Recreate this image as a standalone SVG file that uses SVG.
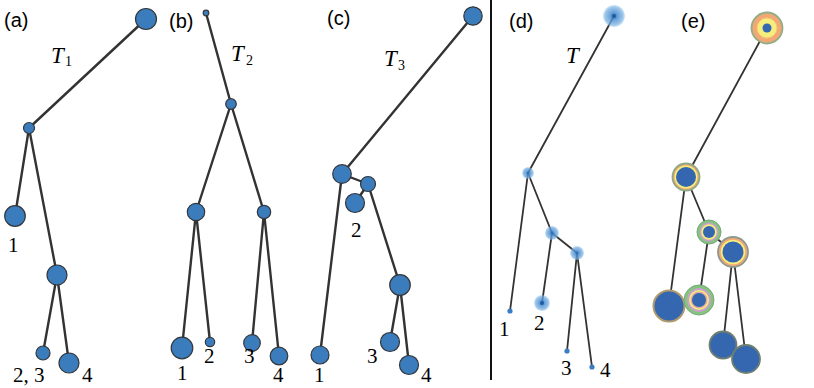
<svg xmlns="http://www.w3.org/2000/svg" width="814" height="388" viewBox="0 0 814 388">
<style>
.e{stroke:#333;stroke-width:2.4;fill:none;stroke-linecap:round}
.et{stroke:#333;stroke-width:1.8;fill:none;stroke-linecap:round}
.n{fill:#3b7cbd;stroke:#33383d;stroke-width:1.2}
.lab{font-family:"Liberation Sans",Arial,sans-serif;font-size:20px;fill:#000}
.num{font-family:"Liberation Serif","Times New Roman",serif;font-size:21px;fill:#000}
.tt{font-family:"Liberation Serif","Times New Roman",serif;font-style:italic;font-size:23px;fill:#000}
.sub{font-family:"Liberation Serif","Times New Roman",serif;font-size:14px;fill:#000}
.h{fill:url(#halo)}
.dot{fill:#3a7dc2}
.bl{fill:#3567b0}
.or{fill:#f2a874}
.ye{fill:#f5ee7c}
.gr{fill:#83c47e}
.pk{fill:#c8a2c8}
</style>
<defs>
<radialGradient id="halo">
<stop offset="0" stop-color="#2466ad" stop-opacity="1"/>
<stop offset="0.3" stop-color="#4a8dcf" stop-opacity="0.85"/>
<stop offset="0.8" stop-color="#74aee2" stop-opacity="0.72"/>
<stop offset="1" stop-color="#9cc8ef" stop-opacity="0.45"/>
</radialGradient>
</defs>

<g id="labels">
<text class="lab" x="4" y="27">(a)</text>
<text class="lab" x="169" y="28">(b)</text>
<text class="lab" x="327" y="25">(c)</text>
<text class="lab" x="509" y="28">(d)</text>
<text class="lab" x="681" y="28">(e)</text>
<text class="tt" x="51" y="63">T</text><text class="sub" x="65" y="66">1</text>
<text class="tt" x="231" y="61">T</text><text class="sub" x="246" y="65">2</text>
<text class="tt" x="384" y="66">T</text><text class="sub" x="398" y="70">3</text>
<text class="tt" x="566" y="63">T</text>
</g>

<line id="separator" x1="491" y1="0" x2="491" y2="380" stroke="#111" stroke-width="2"/>

<g id="connectors">
<!-- a -->
<line class="e" x1="146" y1="19" x2="29" y2="128"/>
<line class="e" x1="29" y1="128" x2="15" y2="216"/>
<line class="e" x1="29" y1="128" x2="57" y2="275"/>
<line class="e" x1="57" y1="275" x2="43" y2="353"/>
<line class="e" x1="57" y1="275" x2="69" y2="363"/>
<!-- b -->
<line class="e" x1="206" y1="13" x2="231" y2="104"/>
<line class="e" x1="231" y1="104" x2="196" y2="212"/>
<line class="e" x1="231" y1="104" x2="264" y2="212"/>
<line class="e" x1="196" y1="212" x2="182" y2="348"/>
<line class="e" x1="196" y1="212" x2="210" y2="342"/>
<line class="e" x1="264" y1="212" x2="252" y2="343"/>
<line class="e" x1="264" y1="212" x2="279" y2="356"/>
<!-- c -->
<line class="e" x1="473" y1="16" x2="342" y2="174"/>
<line class="e" x1="342" y1="174" x2="320" y2="355"/>
<line class="e" x1="342" y1="174" x2="368" y2="184"/>
<line class="e" x1="368" y1="184" x2="355" y2="203"/>
<line class="e" x1="368" y1="184" x2="400" y2="285"/>
<line class="e" x1="400" y1="285" x2="390" y2="342"/>
<line class="e" x1="400" y1="285" x2="409" y2="365"/>
<!-- d -->
<line class="et" x1="614" y1="16" x2="528" y2="173"/>
<line class="et" x1="528" y1="173" x2="510" y2="311"/>
<line class="et" x1="528" y1="173" x2="552" y2="233"/>
<line class="et" x1="552" y1="233" x2="542" y2="303"/>
<line class="et" x1="552" y1="233" x2="577" y2="253"/>
<line class="et" x1="577" y1="253" x2="567" y2="351"/>
<line class="et" x1="577" y1="253" x2="592" y2="367"/>
<!-- e -->
<line class="et" x1="767" y1="28" x2="686" y2="177"/>
<line class="et" x1="686" y1="177" x2="669" y2="306"/>
<line class="et" x1="686" y1="177" x2="709" y2="232"/>
<line class="et" x1="709" y1="232" x2="699" y2="300"/>
<line class="et" x1="709" y1="232" x2="733" y2="252"/>
<line class="et" x1="733" y1="252" x2="723" y2="345"/>
<line class="et" x1="733" y1="252" x2="746" y2="359"/>
</g>

<g id="tree-a">
<g id="a-root"><circle class="n" cx="146" cy="19" r="10.5"/></g>
<g id="a-n1"><circle class="n" cx="29" cy="128" r="5.5"/></g>
<g id="a-leaf1"><circle class="n" cx="15" cy="216" r="10.3"/><text class="num" x="8" y="252">1</text></g>
<g id="a-n2"><circle class="n" cx="57" cy="275" r="10"/></g>
<g id="a-leaf23"><circle class="n" cx="43" cy="353" r="7" stroke-width="2.6" stroke="#222"/><text class="num" x="13" y="382">2, 3</text></g>
<g id="a-leaf4"><circle class="n" cx="69" cy="363" r="10"/><text class="num" x="82" y="382">4</text></g>
</g>

<g id="tree-b">
<g id="b-root"><circle class="n" cx="206" cy="13" r="2.8"/></g>
<g id="b-n1"><circle class="n" cx="231" cy="104" r="5.3"/></g>
<g id="b-n2"><circle class="n" cx="196" cy="212" r="8.7"/></g>
<g id="b-n3"><circle class="n" cx="264" cy="212" r="6.7"/></g>
<g id="b-leaf1"><circle class="n" cx="182" cy="348" r="10.8"/><text class="num" x="177" y="380">1</text></g>
<g id="b-leaf2"><circle class="n" cx="210" cy="342" r="4.7"/><text class="num" x="204" y="363">2</text></g>
<g id="b-leaf3"><circle class="n" cx="252" cy="343" r="8.3"/><text class="num" x="244" y="363">3</text></g>
<g id="b-leaf4"><circle class="n" cx="279" cy="356" r="8.8"/><text class="num" x="273" y="382">4</text></g>
</g>

<g id="tree-c">
<g id="c-root"><circle class="n" cx="473" cy="16" r="9.2"/></g>
<g id="c-n1"><circle class="n" cx="342" cy="174" r="9.3"/></g>
<g id="c-n2"><circle class="n" cx="368" cy="184" r="7.5"/></g>
<g id="c-leaf2"><circle class="n" cx="355" cy="203" r="9.5"/><text class="num" x="351" y="237">2</text></g>
<g id="c-n3"><circle class="n" cx="400" cy="285" r="10.3"/></g>
<g id="c-leaf1"><circle class="n" cx="320" cy="355" r="9"/><text class="num" x="314" y="382">1</text></g>
<g id="c-leaf3"><circle class="n" cx="390" cy="342" r="9.5"/><text class="num" x="367" y="363">3</text></g>
<g id="c-leaf4"><circle class="n" cx="409" cy="365" r="9.5"/><text class="num" x="421" y="382">4</text></g>
</g>

<g id="tree-d">
<g id="d-root"><circle class="h" cx="614" cy="16" r="11"/><circle cx="614" cy="16" r="2" fill="#1f5da3"/></g>
<g id="d-n1"><circle class="h" cx="528" cy="173" r="6"/></g>
<g id="d-n2"><circle class="h" cx="552" cy="233" r="7"/></g>
<g id="d-n3"><circle class="h" cx="577" cy="253" r="7"/></g>
<g id="d-leaf1"><circle class="dot" cx="510" cy="311" r="2.6"/><text class="num" x="499" y="336">1</text></g>
<g id="d-leaf2"><circle class="h" cx="542" cy="303" r="8"/><circle cx="542" cy="303" r="2" fill="#1f5da3"/><text class="num" x="534" y="330">2</text></g>
<g id="d-leaf3"><circle class="dot" cx="567" cy="351" r="2.6"/><text class="num" x="561" y="375">3</text></g>
<g id="d-leaf4"><circle class="dot" cx="592" cy="367" r="2.6"/><text class="num" x="600" y="377">4</text></g>
</g>

<g id="tree-e">
<g id="e-root">
<circle class="or" cx="767" cy="28" r="15.5" stroke="#8fae88" stroke-width="1.8"/>
<circle class="ye" cx="767" cy="28" r="10" stroke="#f7c676" stroke-width="1"/>
<circle class="bl" cx="767" cy="28" r="4.5"/>
</g>
<g id="e-n1">
<circle class="or" cx="686" cy="177" r="13.5" stroke="#8fa884" stroke-width="1.8"/>
<circle class="ye" cx="686" cy="177" r="11.5"/>
<circle class="bl" cx="686" cy="177" r="10"/>
</g>
<g id="e-n2">
<circle class="gr" cx="709" cy="232" r="12" stroke="#75a878" stroke-width="1"/>
<circle class="pk" cx="709" cy="232" r="9.5"/>
<circle class="ye" cx="709" cy="232" r="7.8"/>
<circle class="bl" cx="709" cy="232" r="6"/>
</g>
<g id="e-n3">
<circle class="or" cx="733" cy="252" r="15" stroke="#8f9a90" stroke-width="1.8"/>
<circle class="ye" cx="733" cy="252" r="12.3"/>
<circle class="bl" cx="733" cy="252" r="10.5"/>
</g>
<g id="e-leaf1"><circle class="bl" cx="669" cy="306" r="15.5" stroke="#b09a6c" stroke-width="2"/></g>
<g id="e-leaf2">
<circle class="gr" cx="699" cy="300" r="15" stroke="#78aa78" stroke-width="1"/>
<circle class="pk" cx="699" cy="300" r="12"/>
<circle class="ye" cx="699" cy="300" r="10"/>
<circle cx="699" cy="300" r="8.4" fill="#e9a8a0"/>
<circle class="bl" cx="699" cy="300" r="7"/>
</g>
<g id="e-leaf3"><circle class="bl" cx="723" cy="345" r="13.5" stroke="#6f7f70" stroke-width="1.8"/></g>
<g id="e-leaf4"><circle class="bl" cx="746" cy="359" r="14" stroke="#6f7f70" stroke-width="1.8"/></g>
</g>
</svg>
